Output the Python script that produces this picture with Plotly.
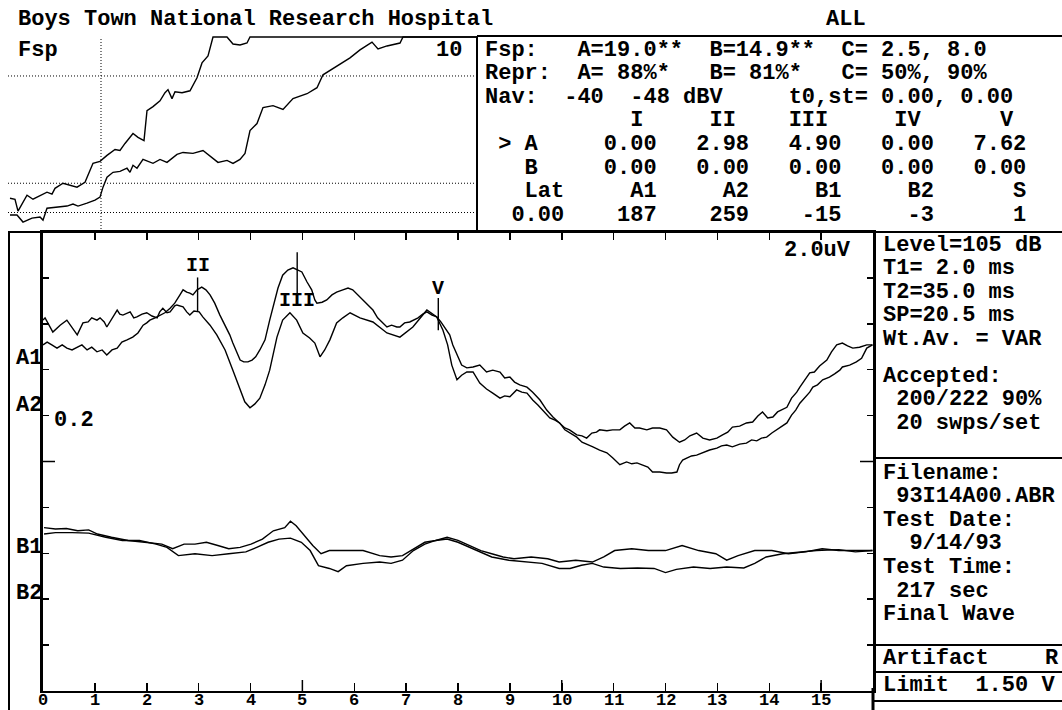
import plotly.graph_objects as go

# ---------------- data ----------------
HOSPITAL = "Boys Town National Research Hospital"
CHANNEL = "ALL"

FSP_AB = [19.0, 14.9]
FSP_CRIT = [2.5, 8.0]
FSP_BASE = 1.0
FSP_FULL = 10
REPR_AB = [88, 81]
REPR_CRIT = [50, 90]
NAV_DBV = [-40, -48]
T0_ST = [0.00, 0.00]
PEAKS = ["I", "II", "III", "IV", "V"]
LAT_A = [0.00, 2.98, 4.90, 0.00, 7.62]
LAT_B = [0.00, 0.00, 0.00, 0.00, 0.00]
AMP_NAMES = ["A1", "A2", "B1", "B2", "S"]
AMP_VALUES = [187, 259, -15, -3, 1]
LAT_ZERO = 0.00

LEVEL_DB = 105
T1_MS = 2.0
T2_MS = 35.0
SP_MS = 20.5
WT_AV = "VAR"
ACCEPTED = [200, 222]
ACC_PCT = 90
SWPS_PER_SET = 20
FILENAME = "93I14A00.ABR"
TEST_DATE = "9/14/93"
TEST_TIME_S = 217
ARTIFACT_LIMIT_V = 1.50
SCALE_UV = 2.0
SCALE_MARK = 0.2

# Fsp growth curves (sweep count, Fsp, display clamps at 10)
FSP_A_SW = [1, 3.5, 5, 9.5, 12.5, 19.5, 22, 23.5, 27.5, 31, 34.5, 38.5, 42.5, 46, 49.5, 53.5, 56, 58.5, 62.5, 65,
            68, 69.5, 72.5, 76, 78.5, 80, 82, 83.5, 87, 91, 94.5, 97, 100, 102.5, 109.5, 112.5, 116, 119.5, 121, 234]
FSP_A_VAL = [1.73, 1.68, 1.07, 1.89, 1.68, 2.04, 1.94, 2.24, 2.5, 2.4, 2.3, 2.55, 3.52, 3.62, 3.93, 4.23, 4.18, 4.54, 5.05, 4.85,
             4.69, 6.22, 6.43, 6.73, 7.14, 7.3, 6.84, 7.19, 7.14, 7.24, 7.91, 8.67, 9.03, 10, 10, 9.64, 9.59, 9.69, 10, 10]
FSP_B_SW = [1, 4.5, 7.5, 12, 16, 17.5, 19.5, 26, 29.5, 32.5, 35, 39.5, 43.5, 46, 47.5, 49.5, 52.5, 56, 59.5, 61,
            62.5, 64.5, 67.5, 72.5, 76, 79.5, 84.5, 87.5, 92.5, 97.5, 105, 109.5, 112.5, 116, 118.5, 121, 124.5, 127.5, 132.5, 137.5,
            142.5, 149.5, 154.5, 157.5, 162.5, 171, 176, 182, 185, 189.5, 196, 197.5, 234]
FSP_B_VAL = [0.87, 0.87, 0.51, 0.71, 0.77, 0.61, 1.22, 1.28, 1.33, 1.43, 1.33, 1.48, 1.63, 1.79, 2.3, 2.81, 3.06, 3.11, 3.27, 3.06,
             3.42, 3.27, 3.72, 3.52, 3.72, 3.57, 3.98, 4.08, 4.03, 4.18, 3.57, 3.67, 3.52, 3.72, 4.03, 5.2, 5.56, 6.38, 6.48, 6.28,
             6.84, 7.09, 7.4, 8.06, 8.37, 8.93, 9.34, 9.74, 9.39, 9.54, 9.69, 10, 10]
FSP_MARK_SWEEP = 46.5

# Waveforms: time (ms) and amplitude (divisions, relative to the channel baseline)
A1_MS = [0.00, 0.04, 0.19, 0.33, 0.46, 0.56, 0.66, 0.77, 0.87, 0.94, 1.04, 1.10, 1.18, 1.23, 1.33, 1.43, 1.48, 1.54, 1.68, 1.75,
         1.81, 1.91, 2.00, 2.10, 2.20, 2.25, 2.31, 2.39, 2.45, 2.54, 2.58, 2.70, 2.77, 2.83, 2.91, 3.01, 3.08, 3.22, 3.35, 3.51,
         3.66, 3.80, 3.89, 3.99, 4.08, 4.18, 4.28, 4.37, 4.51, 4.62, 4.76, 4.89, 5.01, 5.14, 5.24, 5.34, 5.43, 5.53, 5.66, 5.78,
         5.92, 6.11, 6.36, 6.63, 6.88, 7.13, 7.40, 7.59, 7.71, 7.80, 7.88, 7.98, 8.07, 8.17, 8.29,
         8.42, 8.55, 8.67, 8.81, 8.90, 9.00, 9.13, 9.23, 9.33, 9.44, 9.54, 9.63, 9.77, 9.87, 9.96, 10.06, 10.15, 10.29, 10.39, 10.48,
         10.60, 10.73, 10.87, 10.98, 11.12, 11.25, 11.35, 11.45, 11.56, 11.66, 11.75, 11.89, 12.02, 12.12, 12.22, 12.27, 12.33, 12.43, 12.50, 12.60,
         12.72, 12.85, 12.99, 13.08, 13.18, 13.29, 13.43, 13.56, 13.66, 13.76, 13.85, 13.95, 14.05, 14.14, 14.24, 14.34, 14.43, 14.51, 14.59, 14.68,
         14.78, 14.84, 14.93, 15.03, 15.16, 15.26, 15.36, 15.41, 15.55, 15.68, 15.78, 15.88, 15.99]
A1_DIV = [1.08, 1.13, 0.82, 0.97, 1.08, 0.91, 0.76, 1.02, 1.04, 1.13, 1.08, 1.13, 1.04, 0.93, 1.13, 1.30, 1.21, 1.19, 1.26, 1.13,
          1.15, 1.21, 1.24, 1.17, 1.13, 1.26, 1.34, 1.24, 1.26, 1.39, 1.41, 1.37, 1.26, 1.19, 1.28, 1.26, 1.15, 0.97, 0.76, 0.43,
          -0.01, -0.44, -0.70, -0.83, -0.75, -0.62, -0.33, -0.01, 0.71, 1.08, 1.24, 1.08, 0.80, 0.69, 0.58, 0.28, 0.43, 0.65, 1.02, 1.13,
          1.24, 1.13, 1.04, 0.80, 0.71, 0.93, 1.30, 1.15, 0.86, 0.54, 0.10, -0.22, -0.12, -0.05, -0.05,
          -0.29, -0.42, -0.51, -0.62, -0.57, -0.59, -0.44, -0.49, -0.51, -0.66, -0.77, -0.88, -1.05, -1.10, -1.16, -1.31, -1.38, -1.47, -1.58, -1.62,
          -1.68, -1.75, -1.81, -1.92, -2.07, -2.01, -2.05, -2.03, -2.07, -2.12, -2.23, -2.23, -2.25, -2.25, -2.23, -2.07, -1.97, -1.92, -1.88, -1.86,
          -1.81, -1.75, -1.71, -1.66, -1.64, -1.68, -1.62, -1.60, -1.53, -1.55, -1.49, -1.47, -1.38, -1.31, -1.25, -1.16, -0.99, -0.88, -0.73, -0.62,
          -0.49, -0.38, -0.33, -0.22, -0.16, -0.09, -0.01, 0.06, 0.10, 0.17, 0.25, 0.47, 0.54]
A2_MS = [0.00, 0.08, 0.17, 0.27, 0.37, 0.46, 0.56, 0.66, 0.75, 0.85, 0.94, 1.04, 1.14, 1.23, 1.33, 1.43, 1.52, 1.62, 1.73, 1.83,
         1.93, 2.00, 2.06, 2.16, 2.25, 2.35, 2.45, 2.54, 2.64, 2.70, 2.77, 2.83, 2.89, 2.97, 3.06, 3.14, 3.22, 3.31, 3.41, 3.51,
         3.60, 3.66, 3.74, 3.80, 3.87, 3.95, 4.03, 4.10, 4.18, 4.28, 4.37, 4.47, 4.53, 4.62, 4.72, 4.82, 4.91, 4.99, 5.09, 5.18,
         5.24, 5.28, 5.38, 5.47, 5.57, 5.66, 5.78, 5.88, 5.97, 6.07, 6.17, 6.26, 6.36, 6.45, 6.55, 6.63, 6.72, 6.82, 6.88, 6.97,
         7.07, 7.13, 7.23, 7.32, 7.40, 7.50, 7.59, 7.67, 7.75, 7.84, 7.90, 7.98, 8.07, 8.17, 8.29,
         8.42, 8.55, 8.67, 8.81, 8.90, 9.00, 9.09, 9.19, 9.33, 9.44, 9.58, 9.71, 9.83, 9.96, 10.06, 10.15, 10.29, 10.39, 10.48, 10.58,
         10.67, 10.73, 10.87, 10.98, 11.12, 11.21, 11.31, 11.41, 11.50, 11.64, 11.75, 11.89, 12.02, 12.14, 12.27, 12.37, 12.47, 12.60, 12.72, 12.85,
         12.99, 13.10, 13.20, 13.29, 13.43, 13.56, 13.68, 13.78, 13.87, 13.97, 14.07, 14.16, 14.26, 14.34, 14.43, 14.53, 14.59, 14.68, 14.78, 14.87,
         14.97, 15.11, 15.20, 15.30, 15.41, 15.51, 15.61, 15.74, 15.88, 15.99]
A2_DIV = [0.54, 0.60, 0.54, 0.47, 0.54, 0.47, 0.43, 0.49, 0.54, 0.43, 0.49, 0.39, 0.43, 0.32, 0.43, 0.47, 0.60, 0.65, 0.71, 0.80,
          0.97, 1.02, 1.08, 1.13, 1.19, 1.24, 1.34, 1.45, 1.63, 1.74, 1.69, 1.67, 1.63, 1.74, 1.80, 1.74, 1.63, 1.45, 1.19, 0.97,
          0.76, 0.58, 0.39, 0.21, 0.17, 0.17, 0.21, 0.28, 0.43, 0.65, 1.08, 1.52, 1.78, 2.06, 2.17, 2.22, 2.17, 2.13, 1.91, 1.74,
          1.52, 1.45, 1.47, 1.52, 1.63, 1.69, 1.74, 1.78, 1.74, 1.63, 1.52, 1.41, 1.30, 1.13, 1.02, 0.93, 0.97, 0.93, 0.93, 1.02,
          1.04, 1.08, 1.13, 1.21, 1.26, 1.19, 1.15, 1.04, 0.91, 0.76, 0.54, 0.32, 0.10, 0.04, 0.06,
          0.10, -0.05, -0.01, -0.05, -0.18, -0.16, -0.27, -0.33, -0.38, -0.49, -0.66, -0.88, -1.03, -1.16, -1.27, -1.31, -1.42, -1.44, -1.49, -1.38,
          -1.36, -1.31, -1.33, -1.31, -1.31, -1.23, -1.16, -1.27, -1.27, -1.31, -1.27, -1.27, -1.31, -1.47, -1.58, -1.53, -1.44, -1.38, -1.49, -1.53,
          -1.49, -1.42, -1.36, -1.25, -1.23, -1.16, -1.14, -1.01, -0.92, -1.05, -1.03, -0.92, -0.86, -0.82, -0.62, -0.49, -0.38, -0.22, -0.07, -0.05,
          0.08, 0.21, 0.39, 0.54, 0.58, 0.52, 0.47, 0.49, 0.54, 0.54]
B1_MS = [0.02, 0.24, 0.45, 0.67, 0.88, 1.05, 1.32, 1.64, 1.96, 2.29, 2.50, 2.72, 2.93, 3.15, 3.37, 3.58, 3.80, 4.01, 4.23, 4.44,
         4.66, 4.77, 4.88, 5.04, 5.20, 5.36, 5.52, 5.85, 6.17, 6.49, 6.71, 6.93, 7.14, 7.36, 7.57, 7.79, 8.00, 8.22, 8.44, 8.65,
         8.87, 9.08, 9.41, 9.73, 9.95, 10.27, 10.59, 10.81, 11.02, 11.35, 11.67, 12.00, 12.32, 12.64, 12.97, 13.18, 13.40, 13.72, 14.05, 14.37,
         14.69, 15.02, 15.34, 15.66, 15.99]
B1_DIV = [0.56, 0.53, 0.54, 0.49, 0.51, 0.42, 0.35, 0.28, 0.24, 0.20, 0.10, 0.20, 0.20, 0.24, 0.17, 0.10, 0.13, 0.20, 0.31, 0.49,
          0.56, 0.70, 0.60, 0.38, 0.17, -0.01, 0.06, 0.06, 0.06, -0.05, -0.08, -0.05, 0.10, 0.24, 0.28, 0.35, 0.28, 0.17, 0.06, -0.01,
          -0.08, -0.12, -0.08, -0.12, -0.19, -0.15, -0.19, -0.08, 0.06, 0.10, 0.06, 0.06, 0.17, 0.06, -0.01, -0.15, -0.05, 0.06, 0.06, -0.01,
          0.03, 0.10, 0.06, 0.06, 0.06]
B2_MS = [0.02, 0.24, 0.56, 0.88, 1.21, 1.53, 1.86, 2.18, 2.39, 2.61, 2.93, 3.26, 3.58, 3.91, 4.12, 4.34, 4.55, 4.77, 4.98, 5.15,
         5.31, 5.52, 5.69, 5.85, 6.17, 6.49, 6.71, 6.93, 7.14, 7.36, 7.57, 7.79, 8.00, 8.22, 8.44, 8.65, 8.98, 9.30, 9.62, 9.95,
         10.16, 10.38, 10.59, 10.81, 11.13, 11.46, 11.78, 12.00, 12.21, 12.54, 12.86, 13.18, 13.51, 13.72, 13.94, 14.26, 14.58, 14.91, 15.34, 15.66,
         15.99]
B2_DIV = [0.42, 0.45, 0.45, 0.44, 0.35, 0.28, 0.28, 0.20, 0.13, -0.05, -0.01, -0.05, -0.01, 0.03, 0.13, 0.24, 0.31, 0.33, 0.24, 0.06,
          -0.27, -0.33, -0.40, -0.27, -0.22, -0.19, -0.22, -0.15, 0.06, 0.20, 0.28, 0.31, 0.24, 0.13, 0.03, -0.08, -0.15, -0.19, -0.22, -0.33,
          -0.33, -0.26, -0.22, -0.30, -0.33, -0.32, -0.33, -0.42, -0.35, -0.30, -0.33, -0.30, -0.32, -0.22, -0.08, -0.01, 0.03, 0.06, 0.08, 0.03,
          0.06]

# peak marker extents (divisions, relative to A baseline)
PEAK_MARK_LO = [None, 1.26, 1.63, None, 0.86]
PEAK_MARK_HI = [None, 2.01, 2.56, None, 1.56]
PEAK_LABEL_AT = [None, 2.28, 1.50, None, 1.78]

MS_TICKS = list(range(0, 16))

# ---------------- layout constants ----------------
W, H = 1062, 710
MONO = "Liberation Mono"
A_BASE, B_BASE = 7, 3          # channel baselines on the division axis
NB = "\u00a0"


def px(x):
    return x / W


def py(y):
    return 1 - y / H


def txt(x, y, s, size=22, anchor="left", weight="bold"):
    return dict(x=px(x), y=py(y), xref="paper", yref="paper", text=s.replace(" ", NB),
                showarrow=False, xanchor=anchor, yanchor="middle",
                font=dict(family=MONO, size=size, color="black", weight=weight))


def hline(x0, x1, y, w=2):
    return dict(type="line", xref="paper", yref="paper", x0=px(x0), x1=px(x1), y0=py(y), y1=py(y),
                line=dict(color="black", width=w))


def vline(x, y0, y1, w=2):
    return dict(type="line", xref="paper", yref="paper", x0=px(x), x1=px(x), y0=py(y0), y1=py(y1),
                line=dict(color="black", width=w))


fig = go.Figure()

# Fsp growth curves
for xs, ys in [(FSP_A_SW, FSP_A_VAL), (FSP_B_SW, FSP_B_VAL)]:
    fig.add_trace(go.Scatter(x=xs, y=ys, mode="lines", xaxis="x2", yaxis="y2",
                             line=dict(color="black", width=1.4), hoverinfo="skip"))

# waveforms
for xs, ys, base in [(A1_MS, A1_DIV, A_BASE), (A2_MS, A2_DIV, A_BASE),
                     (B1_MS, B1_DIV, B_BASE), (B2_MS, B2_DIV, B_BASE)]:
    fig.add_trace(go.Scatter(x=xs, y=[base + v for v in ys], mode="lines", xaxis="x", yaxis="y",
                             line=dict(color="black", width=1.4), hoverinfo="skip"))

annotations = []
# peak markers
for name, lat, lo, hi, lab in zip(PEAKS, LAT_A, PEAK_MARK_LO, PEAK_MARK_HI, PEAK_LABEL_AT):
    if lo is None:
        continue
    fig.add_trace(go.Scatter(x=[lat, lat], y=[A_BASE + lo, A_BASE + hi], mode="lines",
                             xaxis="x", yaxis="y", line=dict(color="black", width=1.4), hoverinfo="skip"))
    annotations.append(dict(x=lat, y=A_BASE + lab, xref="x", yref="y", text=name, showarrow=False,
                            xanchor="center", yanchor="middle",
                            font=dict(family=MONO, size=20, color="black", weight="bold")))

# time axis labels
for t in MS_TICKS:
    annotations.append(dict(x=t, y=py(700), xref="x", yref="paper", text=str(t), showarrow=False,
                            xanchor="center", yanchor="middle",
                            font=dict(family=MONO, size=17, color="black", weight="bold")))

# header texts
annotations.append(txt(16, 20, HOSPITAL))
annotations.append(txt(824, 20, CHANNEL))
annotations.append(txt(16, 50, "Fsp"))
annotations.append(txt(464, 50, str(FSP_FULL), anchor="right"))

# table rows
rows = [
    f"Fsp:   A={FSP_AB[0]:.1f}**  B={FSP_AB[1]:.1f}**  C={FSP_CRIT[0]:4.1f}, {FSP_CRIT[1]:.1f}",
    f"Repr:  A= {REPR_AB[0]}%*   B= {REPR_AB[1]}%*   C= {REPR_CRIT[0]}%, {REPR_CRIT[1]}%",
    f"Nav:  {NAV_DBV[0]}  {NAV_DBV[1]} dBV     t0,st= {T0_ST[0]:.2f}, {T0_ST[1]:.2f}",
    " " * 9 + "".join(n.rjust(3) + " " * 4 for n in PEAKS).rstrip(),
    " > A" + f"{LAT_A[0]:9.2f}" + "".join(f"{v:7.2f}" for v in LAT_A[1:]),
    "   B" + f"{LAT_B[0]:9.2f}" + "".join(f"{v:7.2f}" for v in LAT_B[1:]),
    "   Lat" + "".join(f"{n:>7}" for n in AMP_NAMES),
    f"{LAT_ZERO:6.2f}" + "".join(f"{v:7d}" for v in AMP_VALUES),
]
for i, r in enumerate(rows):
    annotations.append(txt(483, 50 + 23.6 * i, r))

# right info panel
info = [
    (245, f"Level={LEVEL_DB} dB"), (268.6, f"T1={T1_MS:4.1f} ms"), (292.2, f"T2={T2_MS:4.1f} ms"),
    (315.8, f"SP={SP_MS:4.1f} ms"), (339.4, f"Wt.Av. = {WT_AV}"),
    (376, "Accepted:"), (399.6, f" {ACCEPTED[0]}/{ACCEPTED[1]} {ACC_PCT}%"), (423.2, f" {SWPS_PER_SET} swps/set"),
    (473, "Filename:"), (496.6, f" {FILENAME}"), (520.2, "Test Date:"), (543.8, f"  {TEST_DATE}"),
    (567.4, "Test Time:"), (591, f" {TEST_TIME_S} sec"), (614.6, "Final Wave"),
    (658, "Artifact"), (685, f"Limit  {ARTIFACT_LIMIT_V:.2f} V"),
]
for yy, s in info:
    annotations.append(txt(881, yy, s))
annotations.append(txt(1061, 658, "R", anchor="right"))

# channel labels & scale texts
for lab, yy in [("A1", 358), ("A2", 405), ("B1", 547), ("B2", 593)]:
    annotations.append(txt(14, yy, lab))
annotations.append(txt(52, 420, f"{SCALE_MARK:.1f}"))
annotations.append(txt(853, 251, f"{SCALE_UV:.1f}uV", anchor="right"))

shapes = [
    hline(477, W, 36), vline(477, 36, 232),
    hline(8, W, 232), vline(9, 232, H),
    vline(873, 688, H, 3),
    hline(873, W, 458), hline(873, W, 645), hline(873, W, 672), hline(873, W, 701),
]
# Fsp criterion lines
for v in [FSP_BASE, FSP_CRIT[0], FSP_CRIT[1]]:
    shapes.append(dict(type="line", xref="x2", yref="y2", x0=0, x1=FSP_A_SW[-1], y0=v, y1=v,
                       line=dict(color="black", width=1, dash="1px,2px")))
shapes.append(dict(type="line", xref="x2", yref="y2", x0=FSP_MARK_SWEEP, x1=FSP_MARK_SWEEP, y0=0, y1=FSP_FULL,
                   line=dict(color="black", width=1, dash="1px,2px")))
# longer ticks every 5 ms and at mid-amplitude
for t in [5, 10, 15]:
    shapes.append(dict(type="line", xref="x", yref="paper", x0=t, x1=t, y0=py(691), y1=py(680),
                       line=dict(color="black", width=1.5)))
shapes.append(dict(type="line", xref="paper", yref="y", x0=px(43), x1=px(55), y0=5, y1=5,
                   line=dict(color="black", width=1.5)))
shapes.append(dict(type="line", xref="paper", yref="y", x0=px(860), x1=px(873), y0=5, y1=5,
                   line=dict(color="black", width=1.5)))

fig.update_layout(
    width=W, height=H, margin=dict(l=0, r=0, t=0, b=0),
    paper_bgcolor="white", plot_bgcolor="white", showlegend=False,
    xaxis=dict(domain=[px(43), px(873)], range=[0, 16], showgrid=False, zeroline=False,
               showline=True, linecolor="black", linewidth=2, mirror="ticks",
               ticks="inside", ticklen=8, tickwidth=1.5, tickcolor="black",
               tickvals=list(range(0, 17)), showticklabels=False,
               anchor="y", automargin=False, fixedrange=True),
    yaxis=dict(domain=[py(691), py(232)], range=[0, 10], showgrid=False, zeroline=False,
               showline=True, linecolor="black", linewidth=3, mirror="ticks",
               ticks="inside", ticklen=6, tickwidth=1.5, tickcolor="black",
               tickvals=list(range(1, 10)), showticklabels=False,
               anchor="x", automargin=False, fixedrange=True),
    xaxis2=dict(domain=[px(8), px(476)], range=[0, FSP_A_SW[-1]], visible=False, anchor="y2", fixedrange=True),
    yaxis2=dict(domain=[py(232), py(36)], range=[0, FSP_FULL + 0.05], visible=False, anchor="x2", fixedrange=True),
    annotations=annotations, shapes=shapes,
)

fig.write_html("out.html", config={"displayModeBar": False, "staticPlot": True},
               post_script="document.body.style.margin='0';")
